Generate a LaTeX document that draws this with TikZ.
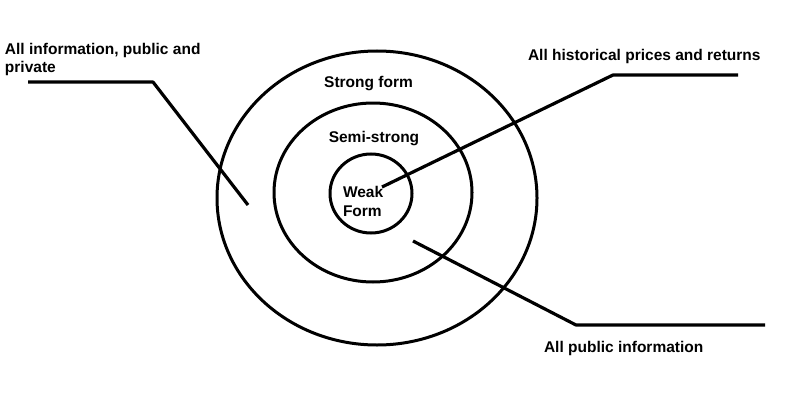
\documentclass[tikz,border=0pt]{standalone}
\usepackage{fontspec}
\setmainfont{Liberation Sans}
\begin{document}
\begin{tikzpicture}[x=1pt,y=1pt,
  ring/.style={draw=drawColor,line width= 3.0pt},
  callout/.style={draw=drawColor,line width= 3.2pt,line join=round},
  lbl/.style={text=drawColor,inner sep=0pt,outer sep=0pt,align=left,
    font=\fontsize{15.5}{18}\selectfont\bfseries}]
\definecolor{fillColor}{RGB}{255,255,255}
\definecolor{drawColor}{RGB}{0,0,0}
\path[use as bounding box,fill=fillColor] (0,0) rectangle (800,400);

% the three forms
\path[ring] (377.00,202.00) ellipse [x radius=160.00, y radius=147.00];

\path[ring] (373.00,207.50) ellipse [x radius= 99.00, y radius= 89.50];

\path[ring] (371.00,206.50) ellipse [x radius= 41.00, y radius= 39.50];

\node[lbl,anchor=base] (strong) at (368.50,313.00) {Strong form};

\node[lbl,anchor=base] (semi) at (374.00,258.00) {Semi-strong};

% base of a two-line node is its last line
\node[lbl,anchor=base west] (weak) at (343.00,184.00) {Weak\\[1pt]Form};

% callouts
\node[lbl,anchor=base west] (allinfo) at (  5.00,327.00) {All information, public and\\private};

\coordinate (allinfoStart) at ( 28.00,318.00);
\coordinate (allinfoBend) at (153.00,318.00);
\coordinate (allinfoEnd) at (248.00,195.00);

\path[callout] (allinfoStart) -- (allinfoBend) -- (allinfoEnd);

\node[lbl,anchor=base west] (hist) at (528.00,339.00) {All historical prices and returns};

\coordinate (histStart) at (738.00,325.00);
\coordinate (histBend) at (613.00,325.00);
\coordinate (histEnd) at (382.00,213.00);

\path[callout] (histStart) -- (histBend) -- (histEnd);

\node[lbl,anchor=base west] (public) at (544.00, 48.00) {All public information};

\coordinate (publicStart) at (765.00, 75.00);
\coordinate (publicBend) at (576.00, 75.00);
\coordinate (publicEnd) at (413.00,159.00);

\path[callout] (publicStart) -- (publicBend) -- (publicEnd);
\end{tikzpicture}
\end{document}
